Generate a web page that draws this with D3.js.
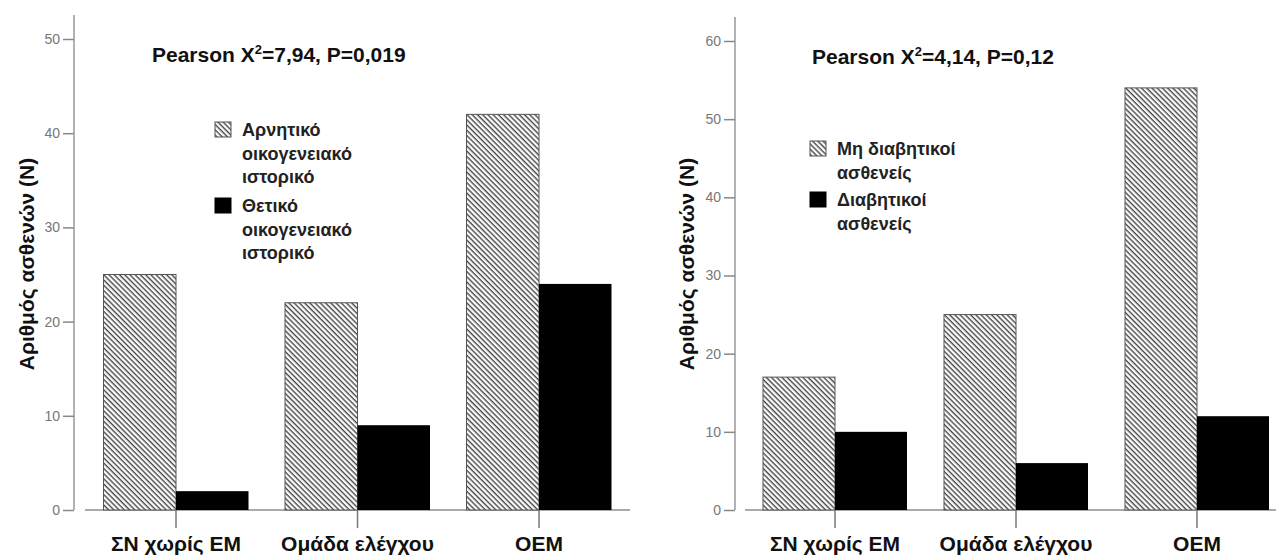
<meta charset="utf-8">
<head>
  <title>Αριθμός ασθενών</title>
</head>

<style>
  body { margin: 0; background: #fff; }
  svg text { font-family: "Liberation Sans", Arial, sans-serif; }
  .tick text { fill: #777; font-size: 14px; }
  .tick line { stroke: #888; stroke-width: 1.5; }
</style>

<body>
  <div id="content"></div>
  <script src="https://cdnjs.cloudflare.com/ajax/libs/d3/7.8.5/d3.min.js"></script>
  <script>

// data
var categories = ["ΣΝ χωρίς ΕΜ", "Ομάδα ελέγχου", "ΟΕΜ"];

var negHistory = [25, 22, 42];
var posHistory = [2, 9, 24];
var leftTicks = [0, 10, 20, 30, 40, 50];
var leftLegend = [["Αρνητικό", "οικογενειακό", "ιστορικό"], ["Θετικό", "οικογενειακό", "ιστορικό"]];

var nonDiabetic = [17, 25, 54];
var diabetic = [10, 6, 12];
var rightTicks = [0, 10, 20, 30, 40, 50, 60];
var rightLegend = [["Μη διαβητικοί", "ασθενείς"], ["Διαβητικοί", "ασθενείς"]];

const width = 1276
const height = 557

const svg = d3.select('#content')
  .append('svg')
    .attr('width', width)
    .attr('height', height)

// diagonal hatch
var defs = svg.append('defs');
defs.append('pattern')
    .attr('id', 'hatch')
    .attr('patternUnits', 'userSpaceOnUse')
    .attr('width', 3.7)
    .attr('height', 3.7)
    .attr('patternTransform', 'rotate(-45)')
  .call(function(p) {
    p.append('rect').attr('width', 3.7).attr('height', 3.7).attr('fill', '#fff');
    p.append('line')
      .attr('x1', 1.2).attr('y1', 0).attr('x2', 1.2).attr('y2', 3.7)
      .attr('stroke', '#444').attr('stroke-width', 1.4);
  });

function drawChart(cfg) {
  var g = svg.append('g');

  var y = d3.scaleLinear().domain([0, cfg.ticks[cfg.ticks.length - 1]]).range([510, cfg.yTop]);
  var x = d3.scalePoint().domain(categories).range(cfg.xRange);

  // y axis
  g.append('line')
    .attr('x1', cfg.axisX).attr('x2', cfg.axisX)
    .attr('y1', cfg.axisTop).attr('y2', 510)
    .attr('stroke', '#999').attr('stroke-width', 1.5);

  var ya = g.append('g')
    .attr('transform', 'translate(' + cfg.axisX + ',0)')
    .call(d3.axisLeft(y).tickValues(cfg.ticks).tickSize(11).tickPadding(3));
  ya.select('.domain').remove();

  // baseline
  g.append('line')
    .attr('x1', cfg.baseX[0]).attr('x2', cfg.baseX[1])
    .attr('y1', 510).attr('y2', 510)
    .attr('stroke', '#aaa').attr('stroke-width', 2);

  // bars
  var w = cfg.barW;
  g.selectAll('.b1').data(cfg.s1).enter().append('rect')
    .attr('x', function(d, i) { return x(categories[i]) - w })
    .attr('y', function(d) { return y(d) })
    .attr('width', w)
    .attr('height', function(d) { return y(0) - y(d) })
    .attr('fill', 'url(#hatch)')
    .attr('stroke', '#555').attr('stroke-width', 1);

  g.selectAll('.b2').data(cfg.s2).enter().append('rect')
    .attr('x', function(d, i) { return x(categories[i]) })
    .attr('y', function(d) { return y(d) })
    .attr('width', w)
    .attr('height', function(d) { return y(0) - y(d) })
    .attr('fill', '#000');

  // category ticks and labels
  g.selectAll('.ct').data(categories).enter().append('line')
    .attr('x1', function(d) { return x(d) }).attr('x2', function(d) { return x(d) })
    .attr('y1', 510).attr('y2', 528)
    .attr('stroke', '#777').attr('stroke-width', 1.5);

  g.selectAll('.cl').data(categories).enter().append('text')
    .attr('x', function(d) { return x(d) })
    .attr('y', 551)
    .attr('text-anchor', 'middle')
    .attr('font-size', 21).attr('font-weight', 'bold')
    .attr('fill', '#111')
    .text(function(d) { return d });

  // y title
  g.append('text')
    .attr('transform', 'translate(' + cfg.titleX + ',264) rotate(-90)')
    .attr('text-anchor', 'middle')
    .attr('dominant-baseline', 'central')
    .attr('font-size', 21).attr('font-weight', 'bold')
    .attr('fill', '#111')
    .text('Αριθμός ασθενών (Ν)');

  // Pearson
  var t = g.append('text')
    .attr('x', cfg.pearson[0]).attr('y', cfg.pearson[1])
    .attr('font-size', 21).attr('font-weight', 'bold')
    .attr('fill', '#111');
  t.append('tspan').text('Pearson X');
  t.append('tspan').attr('dy', -8).attr('font-size', 13).text('2');
  t.append('tspan').attr('dy', 8).text(cfg.stat);

  // legend
  var lg = g.append('g');
  cfg.legend.forEach(function(lines, k) {
    var top = cfg.legendY[k];
    lg.append('rect')
      .attr('x', cfg.legendX).attr('y', top)
      .attr('width', 16).attr('height', 15)
      .attr('fill', k == 0 ? 'url(#hatch)' : '#000')
      .attr('stroke', k == 0 ? '#555' : '#000').attr('stroke-width', 1);
    lines.forEach(function(s, j) {
      lg.append('text')
        .attr('x', cfg.legendX + 27)
        .attr('y', top + 14 + j * 23.5)
        .attr('font-size', 18).attr('font-weight', 'bold')
        .attr('fill', '#222')
        .text(s);
    });
  });
}

drawChart({
  s1: negHistory, s2: posHistory, ticks: leftTicks, legend: leftLegend,
  yTop: 39, axisX: 74, axisTop: 15, xRange: [176, 539], baseX: [85, 630], barW: 72.5,
  titleX: 26, pearson: [152, 62], stat: '=7,94, P=0,019',
  legendX: 215, legendY: [122, 198]
});

drawChart({
  s1: nonDiabetic, s2: diabetic, ticks: rightTicks, legend: rightLegend,
  yTop: 41, axisX: 735, axisTop: 17, xRange: [835, 1197], baseX: [745, 1276], barW: 72,
  titleX: 686, pearson: [812, 64], stat: '=4,14, P=0,12',
  legendX: 810, legendY: [141, 192]
});

</script>
</body>
</html>
